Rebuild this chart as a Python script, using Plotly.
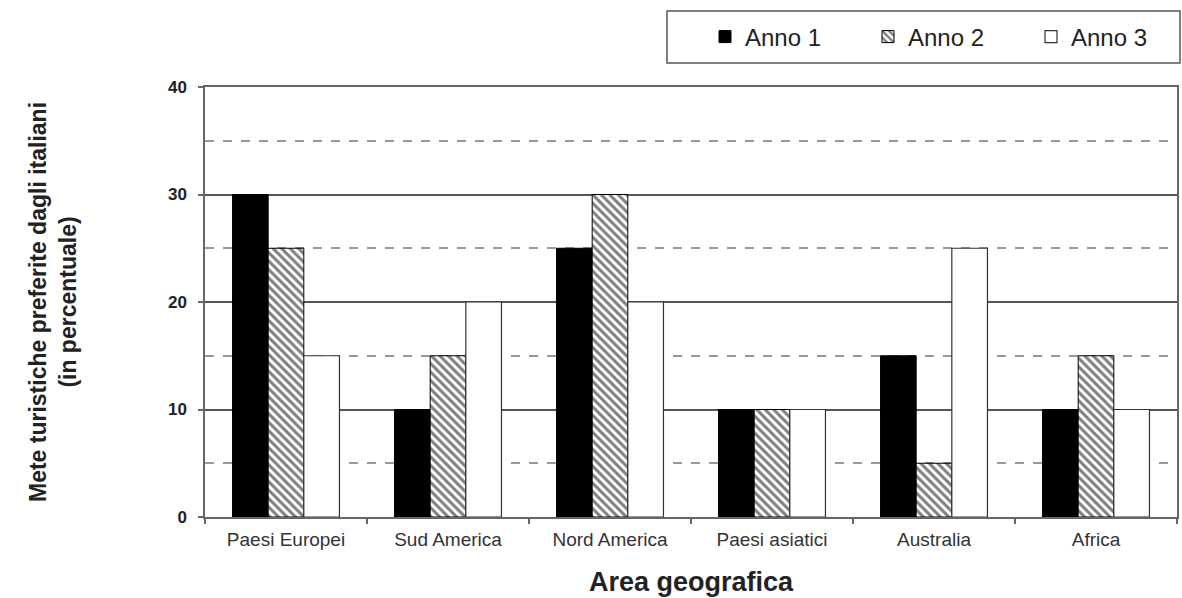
import plotly.graph_objects as go

categories = ["Paesi Europei", "Sud America", "Nord America", "Paesi asiatici", "Australia", "Africa"]
anno1 = [30, 10, 25, 10, 15, 10]
anno2 = [25, 15, 30, 10, 5, 15]
anno3 = [15, 20, 20, 10, 25, 10]
series_names = ["Anno 1", "Anno 2", "Anno 3"]
y_ticks = [0, 10, 20, 30, 40]

FONT = "Liberation Sans"
W, H = 1182, 598
ML, MR, MT, MB = 205, 5, 87, 81
PW = W - ML - MR
PH = H - MT - MB

def px_x(p):
    return (p - ML) / PW

def px_y(p):
    return (H - MB - p) / PH

fig = go.Figure()
fig.add_trace(go.Bar(
    name=series_names[0], x=categories, y=anno1,
    marker=dict(color="black", line=dict(color="black", width=1)),
))
fig.add_trace(go.Bar(
    name=series_names[1], x=categories, y=anno2,
    marker=dict(color="white", line=dict(color="black", width=1),
                pattern=dict(shape="\\", fgcolor="black", bgcolor="white",
                             size=6, solidity=0.5)),
))
fig.add_trace(go.Bar(
    name=series_names[2], x=categories, y=anno3,
    marker=dict(color="white", line=dict(color="#333", width=1.2)),
))

fig.update_layout(
    width=W, height=H,
    margin=dict(l=ML, r=MR, t=MT, b=MB, autoexpand=False),
    paper_bgcolor="white", plot_bgcolor="white",
    barmode="group", bargap=0.34, bargroupgap=0,
    font=dict(family=FONT, color="#222"),
    showlegend=True,
    legend=dict(
        orientation="h",
        x=px_x(705), xanchor="left",
        y=px_y(37), yanchor="middle",
        font=dict(family=FONT, size=24, color="#222"),
        entrywidth=118, entrywidthmode="pixels",
        bgcolor="rgba(0,0,0,0)", borderwidth=0,
        traceorder="normal",
    ),
    shapes=[dict(
        type="rect", xref="paper", yref="paper",
        x0=px_x(667), x1=px_x(1180), y0=px_y(63), y1=px_y(11),
        line=dict(color="#555", width=1.5), fillcolor="rgba(0,0,0,0)", layer="above",
    )],
)

fig.update_xaxes(
    type="category",
    showline=True, linecolor="#666", linewidth=1.5, mirror=True,
    ticks="outside", tickson="boundaries", ticklen=5, tickcolor="#666", tickwidth=1.5,
    tickfont=dict(family=FONT, size=19, color="#333"),
    ticklabelstandoff=4,
    showgrid=False,
    title=dict(text="Area geografica", standoff=24,
               font=dict(family=FONT, size=27, color="#222", weight="bold")),
    automargin=False,
)
fig.update_yaxes(
    range=[0, 40],
    tickvals=y_ticks,
    showline=True, linecolor="#666", linewidth=1.5, mirror=True,
    ticks="outside", ticklen=5, tickcolor="#666", tickwidth=1.5,
    tickfont=dict(family=FONT, size=17, color="#222", weight="bold"),
    ticklabelstandoff=8,
    showgrid=True, gridcolor="#555", gridwidth=1.5,
    zeroline=False,
    minor=dict(dtick=5, showgrid=True, gridcolor="#999", gridwidth=1.5, griddash="dash", ticks=""),
    title=dict(text="Mete turistiche preferite dagli italiani<br>(in percentuale)",
               standoff=85,
               font=dict(family=FONT, size=23, color="#222", weight="bold")),
    automargin=False,
)

fig.write_html("out.html", config={"displayModeBar": False},
               post_script="document.body.style.margin='0';")
